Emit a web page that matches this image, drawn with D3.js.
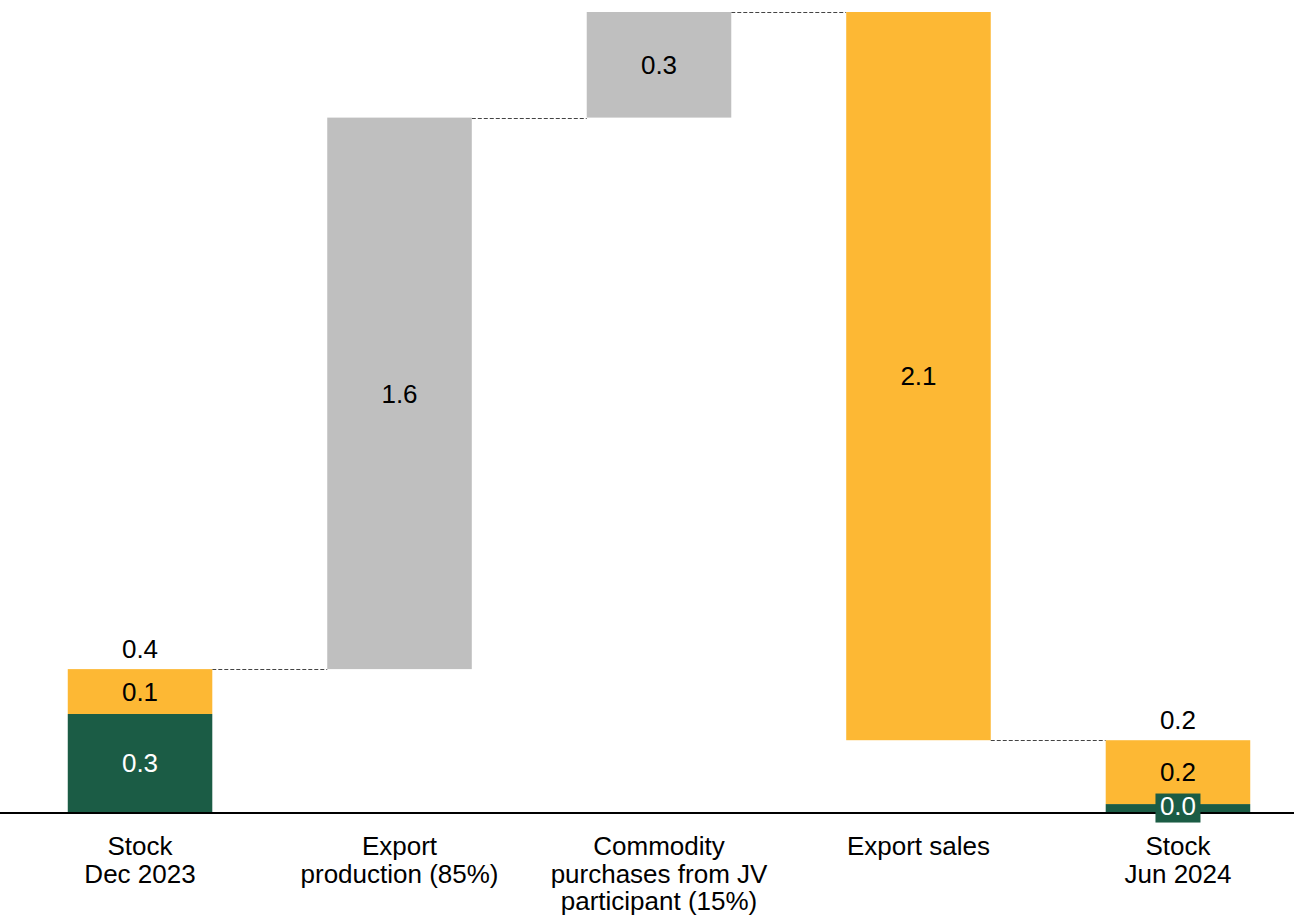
<!DOCTYPE html>
<html>
<head>
<meta charset="utf-8">
<script src="https://cdn.jsdelivr.net/npm/d3@7/dist/d3.min.js"></script>
<style>
  html, body { margin: 0; padding: 0; background: #fff; }
  svg { display: block; font-family: "Liberation Sans", Arial, sans-serif; }
</style>
</head>
<body>
<svg id="chart" width="1294" height="917"></svg>
<script>
// ---- data ----
const categories = ["Stock Dec 2023", "Export production (85%)", "Commodity purchases from JV participant (15%)", "Export sales", "Stock Jun 2024"];
const categoryLines = [["Stock", "Dec 2023"], ["Export", "production (85%)"], ["Commodity", "purchases from JV", "participant (15%)"], ["Export sales"], ["Stock", "Jun 2024"]];
const stockCategories = ["Stock Dec 2023", "Stock Jun 2024"];
const stockGreen = [0.284, 0.023];   // green component of stock
const stockYellow = [0.130, 0.185];  // yellow component of stock
const flowCategories = ["Export production (85%)", "Commodity purchases from JV participant (15%)", "Export sales"];
const flowValues = [1.598, 0.306, -2.110];
const flowKinds = ["grey", "grey", "yellow"];

// ---- layout ----
const W = 1294, H = 917;
const baseY = 812, topY = 12;
const COLORS = { green: "#1B5C45", yellow: "#FDB834", grey: "#BFBFBF" };
const fmt = d3.format(".1f");
const FONT = 26;

const svg = d3.select("#chart");

// build waterfall segments
const segs = [];
const totals = [];
let running = 0;
// opening stock
{
  const i = 0;
  segs.push({ cat: stockCategories[i], y0: 0, y1: stockGreen[i], color: COLORS.green, label: fmt(stockGreen[i]), textColor: "#fff" });
  segs.push({ cat: stockCategories[i], y0: stockGreen[i], y1: stockGreen[i] + stockYellow[i], color: COLORS.yellow, label: fmt(stockYellow[i]), textColor: "#000" });
  running = stockGreen[i] + stockYellow[i];
  totals.push({ cat: stockCategories[i], v: running });
}
const levels = [{ cat: stockCategories[0], v: running }];
flowValues.forEach((v, k) => {
  const a = running, b = running + v;
  segs.push({ cat: flowCategories[k], y0: Math.min(a, b), y1: Math.max(a, b), color: COLORS[flowKinds[k]], label: fmt(Math.abs(v)), textColor: "#000" });
  running = b;
  levels.push({ cat: flowCategories[k], v: v >= 0 ? b : a, end: b });
});
{
  const i = 1;
  segs.push({ cat: stockCategories[i], y0: 0, y1: stockGreen[i], color: COLORS.green, label: fmt(stockGreen[i]), textColor: "#fff", boxed: true });
  segs.push({ cat: stockCategories[i], y0: stockGreen[i], y1: stockGreen[i] + stockYellow[i], color: COLORS.yellow, label: fmt(stockYellow[i]), textColor: "#000" });
  totals.push({ cat: stockCategories[i], v: stockGreen[i] + stockYellow[i] });
}

const yMax = d3.max(segs, d => d.y1);
const x = d3.scaleBand().domain(categories).range([12, 1306]).paddingInner(0.443).paddingOuter(0.2149);
const y = d3.scaleLinear().domain([0, yMax]).range([baseY, topY]);

// connectors: connect running level between consecutive bars
const connectorLevels = [];
{
  let r = stockGreen[0] + stockYellow[0];
  const seq = categories;
  const runAfter = [r];
  flowValues.forEach(v => { r += v; runAfter.push(r); });
  for (let i = 0; i < seq.length - 1; i++) {
    connectorLevels.push({ from: seq[i], to: seq[i + 1], v: runAfter[i] });
  }
}
svg.append("g").selectAll("line").data(connectorLevels).join("line")
  .attr("x1", d => x(d.from) + x.bandwidth())
  .attr("x2", d => x(d.to))
  .attr("y1", d => Math.round(y(d.v)) + 0.5)
  .attr("y2", d => Math.round(y(d.v)) + 0.5)
  .attr("stroke", "#444")
  .attr("stroke-width", 1)
  .attr("stroke-dasharray", "4,2");

// bars
svg.append("g").selectAll("rect").data(segs).join("rect")
  .attr("x", d => x(d.cat))
  .attr("width", x.bandwidth())
  .attr("y", d => y(d.y1))
  .attr("height", d => y(d.y0) - y(d.y1))
  .attr("fill", d => d.color);

// axis baseline
svg.append("line")
  .attr("x1", 0).attr("x2", W)
  .attr("y1", baseY + 1).attr("y2", baseY + 1)
  .attr("stroke", "#000").attr("stroke-width", 2);

// boxed labels (thin segment)
const boxed = segs.filter(d => d.boxed);
svg.append("g").selectAll("rect").data(boxed).join("rect")
  .attr("x", d => x(d.cat) + x.bandwidth() / 2 - 22.5)
  .attr("width", 45)
  .attr("y", d => (y(d.y0) + y(d.y1)) / 2 - 14.5)
  .attr("height", 29)
  .attr("fill", d => d.color);

// inner labels
svg.append("g").selectAll("text").data(segs).join("text")
  .attr("x", d => x(d.cat) + x.bandwidth() / 2)
  .attr("y", d => (y(d.y0) + y(d.y1)) / 2 + FONT * 0.36 - (d.boxed ? 2 : 0))
  .attr("text-anchor", "middle")
  .attr("font-size", FONT)
  .attr("fill", d => d.textColor)
  .text(d => d.label);

// totals above stock bars
svg.append("g").selectAll("text").data(totals).join("text")
  .attr("x", d => x(d.cat) + x.bandwidth() / 2)
  .attr("y", d => y(d.v) - 11)
  .attr("text-anchor", "middle")
  .attr("font-size", FONT)
  .attr("fill", "#000")
  .text(d => fmt(d.v));

// category axis labels
const axis = d3.axisBottom(x).tickSize(0).tickPadding(0);
const gAxis = svg.append("g").attr("transform", `translate(0,${baseY})`).call(axis);
gAxis.select(".domain").remove();
gAxis.selectAll(".tick text")
  .attr("font-size", FONT)
  .attr("font-family", "Liberation Sans, Arial, sans-serif")
  .attr("fill", "#000")
  .attr("dy", null)
  .attr("y", 43)
  .each(function(d) {
    const lines = categoryLines[categories.indexOf(d)];
    const t = d3.select(this).text(null);
    lines.forEach((ln, i) => {
      t.append("tspan").attr("x", 0).attr("y", 43 + i * 27.5).text(ln);
    });
  });
</script>
</body>
</html>
